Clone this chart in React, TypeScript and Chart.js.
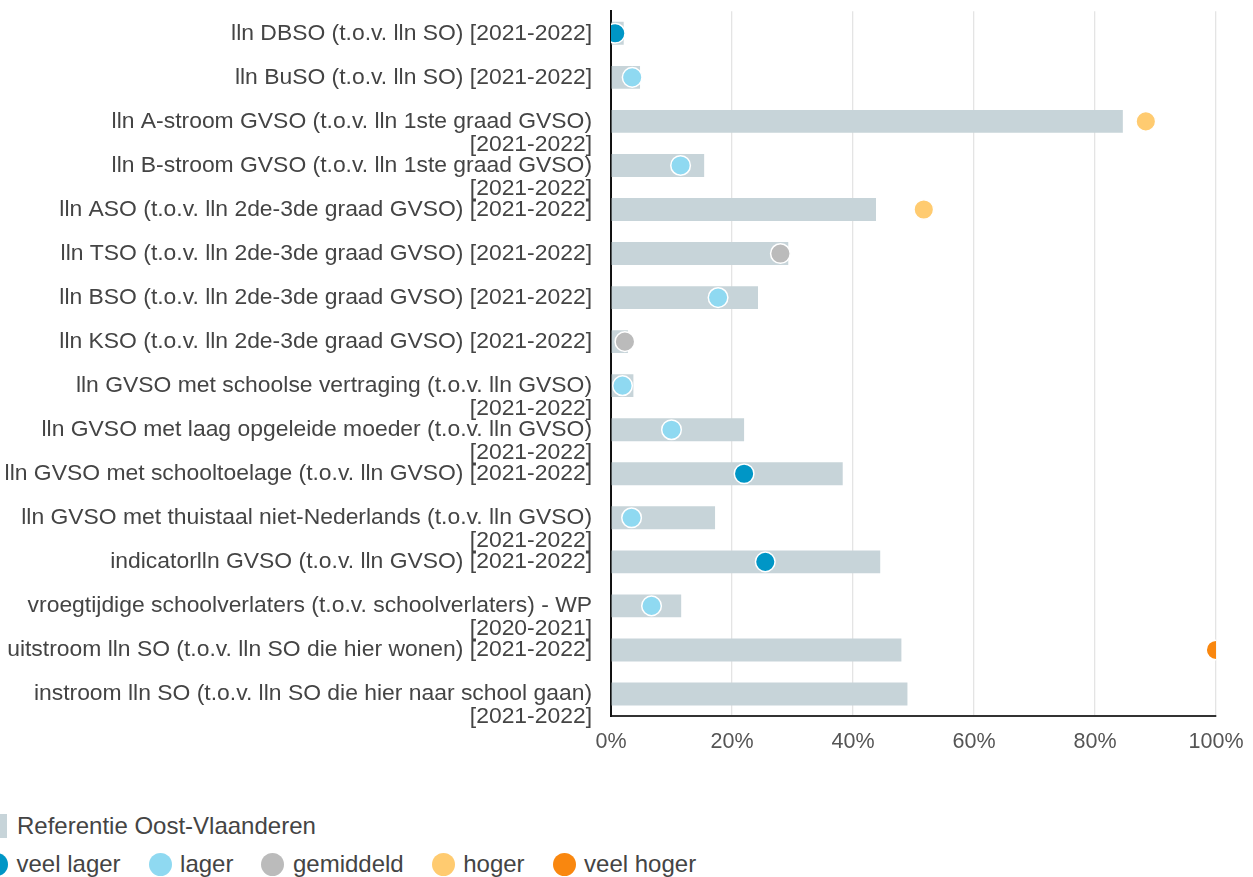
import React, { useEffect, useRef } from "react";
import { Chart, registerables } from "chart.js";

Chart.register(...registerables);

// Category labels (lines per label)
const categories: string[][] = [
  ["lln DBSO (t.o.v. lln SO) [2021-2022]"],
  ["lln BuSO (t.o.v. lln SO) [2021-2022]"],
  ["lln A-stroom GVSO (t.o.v. lln 1ste graad GVSO)", "[2021-2022]"],
  ["lln B-stroom GVSO (t.o.v. lln 1ste graad GVSO)", "[2021-2022]"],
  ["lln ASO (t.o.v. lln 2de-3de graad GVSO) [2021-2022]"],
  ["lln TSO (t.o.v. lln 2de-3de graad GVSO) [2021-2022]"],
  ["lln BSO (t.o.v. lln 2de-3de graad GVSO) [2021-2022]"],
  ["lln KSO (t.o.v. lln 2de-3de graad GVSO) [2021-2022]"],
  ["lln GVSO met schoolse vertraging (t.o.v. lln GVSO)", "[2021-2022]"],
  ["lln GVSO met laag opgeleide moeder (t.o.v. lln GVSO)", "[2021-2022]"],
  ["lln GVSO met schooltoelage (t.o.v. lln GVSO) [2021-2022]"],
  ["lln GVSO met thuistaal niet-Nederlands (t.o.v. lln GVSO)", "[2021-2022]"],
  ["indicatorlln GVSO (t.o.v. lln GVSO) [2021-2022]"],
  ["vroegtijdige schoolverlaters (t.o.v. schoolverlaters) - WP", "[2020-2021]"],
  ["uitstroom lln SO (t.o.v. lln SO die hier wonen) [2021-2022]"],
  ["instroom lln SO (t.o.v. lln SO die hier naar school gaan)", "[2021-2022]"],
];

// Reference (Oost-Vlaanderen) values, %
const referenceValues: number[] = [
  2.1, 4.8, 84.6, 15.4, 43.8, 29.3, 24.3, 2.8, 3.7, 22.0, 38.3, 17.2, 44.5, 11.6, 48.0, 49.0,
];

// Local values, %
const localValues: (number | null)[] = [
  0.7, 3.5, 88.4, 11.5, 51.7, 28.0, 17.7, 2.3, 1.9, 10.0, 22.0, 3.4, 25.5, 6.7, 100, null,
];

// Classification of each local value
const localClasses: (string | null)[] = [
  "veel lager", "lager", "hoger", "lager", "hoger", "gemiddeld", "lager", "gemiddeld",
  "lager", "lager", "veel lager", "lager", "veel lager", "lager", "veel hoger", null,
];

const classNames: string[] = ["veel lager", "lager", "gemiddeld", "hoger", "veel hoger"];
const classColors: string[] = ["#0096c6", "#8fd9f1", "#bbbbbb", "#ffcb70", "#f9870f"];

const referenceLabel = "Referentie Oost-Vlaanderen";
const referenceColor = "#c7d4d9";

const xTicks: number[] = [0, 20, 40, 60, 80, 100];

const FONT = "'Liberation Sans', Arial, sans-serif";

export default function App() {
  const canvasRef = useRef<HTMLCanvasElement | null>(null);

  useEffect(() => {
    if (!canvasRef.current) return;
    const labels = categories.map((l) => (l.length > 1 ? ["", ...l] : l));
    const pointSets = classNames.map((name, ci) => ({
      type: "line" as const,
      label: name,
      data: localValues.map((v, i) => (localClasses[i] === name ? v : null)),
      showLine: false,
      pointRadius: 9.8,
      pointHoverRadius: 9.8,
      pointBorderWidth: 1.5,
      pointBorderColor: "#ffffff",
      pointBackgroundColor: classColors[ci],
      backgroundColor: classColors[ci],
      borderColor: classColors[ci],
      indexAxis: "y" as const,
      clip: 0,
      order: 0,
    }));

    const chart = new Chart(canvasRef.current, {
      type: "bar",
      data: {
        labels,
        datasets: [
          ...pointSets,
          {
            type: "bar" as const,
            label: referenceLabel,
            data: referenceValues,
            backgroundColor: referenceColor,
            borderWidth: 0,
            categoryPercentage: 1,
            barPercentage: 0.52,
            order: 10,
          },
        ] as any,
      },
      options: {
        indexAxis: "y",
        animation: false,
        responsive: true,
        maintainAspectRatio: false,
        layout: { padding: { top: 10, right: 37, left: 0, bottom: 0 } },
        plugins: {
          legend: { display: false },
          tooltip: { enabled: false },
        },
        scales: {
          x: {
            type: "linear",
            min: 0,
            max: 100,
            afterBuildTicks: (scale: any) => {
              scale.ticks = xTicks.map((v) => ({ value: v }));
            },
            afterFit: (scale: any) => {
              scale.height = 44;
              scale.paddingLeft = 0;
              scale.paddingRight = 0;
            },
            ticks: {
              callback: (v: any) => `${v}%`,
              color: "#555555",
              font: { family: FONT, size: 21.5 },
              padding: 13,
              maxRotation: 0,
            },
            grid: {
              color: "#e4e4e4",
              lineWidth: 1.3,
              drawTicks: false,
            },
            border: { display: true, color: "#333333", width: 2 },
          },
          y: {
            type: "category",
            afterFit: (scale: any) => {
              scale.width = 611;
              scale.paddingTop = 0;
              scale.paddingBottom = 0;
            },
            ticks: {
              autoSkip: false,
              color: "#444444",
              font: { family: FONT, size: 22.9, lineHeight: "23px" },
              padding: 19,
            },
            grid: { display: false, drawTicks: false },
            border: { display: true, color: "#111111", width: 2 },
          },
        },
      } as any,
    });
    return () => chart.destroy();
  }, []);

  const textStyle: React.CSSProperties = {
    fontFamily: FONT,
    fontSize: 24,
    color: "#444444",
    whiteSpace: "nowrap",
    lineHeight: "24px",
  };

  return (
    <div
      style={{
        position: "fixed",
        left: 0,
        top: 0,
        width: 1253,
        height: 877,
        background: "#ffffff",
        overflow: "hidden",
      }}
    >
      <div style={{ position: "absolute", left: 0, top: 0, width: 1253, height: 760 }}>
        <canvas ref={canvasRef} />
      </div>
      <div
        style={{
          position: "absolute",
          left: -5,
          top: 814,
          height: 24,
          display: "flex",
          alignItems: "center",
        }}
      >
        <div style={{ width: 12, height: 24, background: referenceColor, marginRight: 10 }} />
        <span style={textStyle}>{referenceLabel}</span>
      </div>
      <div
        style={{
          position: "absolute",
          left: -15,
          top: 852,
          height: 24,
          display: "flex",
          alignItems: "center",
        }}
      >
        {classNames.map((name, i) => (
          <div
            key={name}
            style={{ display: "flex", alignItems: "center", marginRight: 28 }}
          >
            <div
              style={{
                width: 23,
                height: 23,
                borderRadius: "50%",
                background: classColors[i],
                marginRight: 8.5,
              }}
            />
            <span style={textStyle}>{name}</span>
          </div>
        ))}
      </div>
    </div>
  );
}
